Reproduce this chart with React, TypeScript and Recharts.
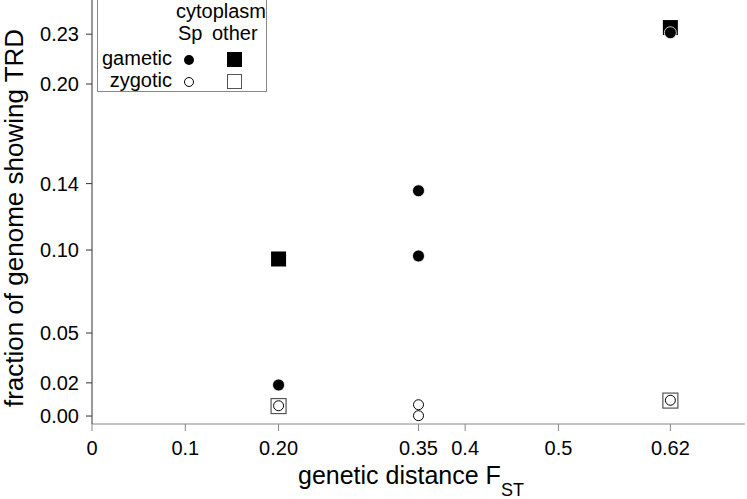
import { ScatterChart, Scatter, XAxis, YAxis, Label } from 'recharts'

const xTicks = [0, 0.1, 0.2, 0.35, 0.4, 0.5, 0.62]
const xTickLabels = ['0', '0.1', '0.20', '0.35', '0.4', '0.5', '0.62']
const yTicks = [0, 0.02, 0.05, 0.1, 0.14, 0.2, 0.23]

// gametic / zygotic TRD, split by cytoplasm (Sp vs other)
const gameticSp = [
  { x: 0.2, y: 0.0187 },
  { x: 0.35, y: 0.0964 },
  { x: 0.35, y: 0.1357 },
  { x: 0.62, y: 0.2309 },
]
const gameticOther = [
  { x: 0.2, y: 0.0946 },
  { x: 0.62, y: 0.234 },
]
const zygoticSp = [
  { x: 0.2, y: 0.0062 },
  { x: 0.35, y: 0.0068 },
  { x: 0.35, y: 0.0002 },
  { x: 0.62, y: 0.0095 },
]
const zygoticOther = [
  { x: 0.2, y: 0.006 },
  { x: 0.62, y: 0.0093 },
]

const FONT = '"Liberation Sans", Arial, Helvetica, sans-serif'

const filledCircle = (p: any) => (
  <circle cx={p.cx} cy={p.cy} r={6} fill="#000" stroke="#fff" strokeWidth={0.8} />
)
const openCircle = (p: any) => (
  <circle cx={p.cx} cy={p.cy} r={5} fill="#fff" stroke="#000" strokeWidth={1} />
)
const filledSquare = (p: any) => (
  <rect x={p.cx - 7.5} y={p.cy - 7.5} width={15} height={15} fill="#000" />
)
const openSquare = (p: any) => (
  <rect x={p.cx - 7.5} y={p.cy - 7.5} width={15} height={15} fill="#fff" stroke="#555" strokeWidth={1.2} />
)

const XTitle = () => (
  <text x={298} y={484} fontSize={25} fill="#000" fontFamily={FONT}>
    genetic distance F
    <tspan fontSize={18} dy={12}>ST</tspan>
  </text>
)

const YTitle = () => (
  <text
    x={23}
    y={218}
    transform="rotate(-90 23 218)"
    textAnchor="middle"
    fontSize={26}
    fill="#000"
    fontFamily={FONT}
  >
    fraction of genome showing TRD
  </text>
)

function LegendBox() {
  return (
    <svg
      width={280}
      height={100}
      style={{ position: 'absolute', left: 0, top: 0, fontFamily: FONT }}
    >
      <polyline points="97.5,0 97.5,91.5 266.5,91.5 266.5,0" fill="none" stroke="#888" strokeWidth={1} />
      <text x={176} y={18} fontSize={20} fill="#000">cytoplasm</text>
      <text x={178} y={40} fontSize={20} fill="#000">Sp</text>
      <text x={212} y={40} fontSize={20} fill="#000">other</text>
      <text x={172} y={65} fontSize={20} fill="#000" textAnchor="end">gametic</text>
      <text x={172} y={87} fontSize={20} fill="#000" textAnchor="end">zygotic</text>
      <circle cx={189} cy={60} r={5} fill="#000" />
      <rect x={227} y={52} width={15} height={15} fill="#000" />
      <circle cx={189} cy={82} r={4.5} fill="#fff" stroke="#000" strokeWidth={1} />
      <rect x={227.5} y={74.5} width={14} height={14} fill="#fff" stroke="#555" strokeWidth={1} />
    </svg>
  )
}

export default function App() {
  return (
    <div style={{ position: 'absolute', left: 0, top: 0, width: 747, height: 499, background: '#fff', fontFamily: FONT }}>
      <ScatterChart width={747} height={499} margin={{ top: 0, right: 2, bottom: 0, left: 0 }}>
        <XAxis
          type="number"
          dataKey="x"
          domain={[0, 0.7]}
          ticks={xTicks}
          interval={0}
          tickFormatter={(v: number) => xTickLabels[xTicks.indexOf(v)] ?? String(v)}
          height={75}
          allowDataOverflow
          axisLine={{ stroke: '#888' }}
          tickLine={{ stroke: '#888' }}
          tickSize={7}
          tickMargin={10}
          tick={{ fill: '#000', fontSize: 20, fontFamily: FONT }}
        >
          <Label content={<XTitle />} />
        </XAxis>
        <YAxis
          type="number"
          dataKey="y"
          domain={[-0.0048, 0.2506]}
          ticks={yTicks}
          interval={0}
          tickFormatter={(v: number) => v.toFixed(2)}
          width={92}
          allowDataOverflow
          axisLine={{ stroke: '#333' }}
          tickLine={{ stroke: '#333' }}
          tickSize={6}
          tickMargin={7}
          tick={{ fill: '#000', fontSize: 20, fontFamily: FONT }}
        >
          <Label content={<YTitle />} />
        </YAxis>
        <Scatter data={gameticOther} shape={filledSquare} isAnimationActive={false} />
        <Scatter data={zygoticOther} shape={openSquare} isAnimationActive={false} />
        <Scatter data={gameticSp} shape={filledCircle} isAnimationActive={false} />
        <Scatter data={zygoticSp} shape={openCircle} isAnimationActive={false} />
      </ScatterChart>
      <LegendBox />
    </div>
  )
}
